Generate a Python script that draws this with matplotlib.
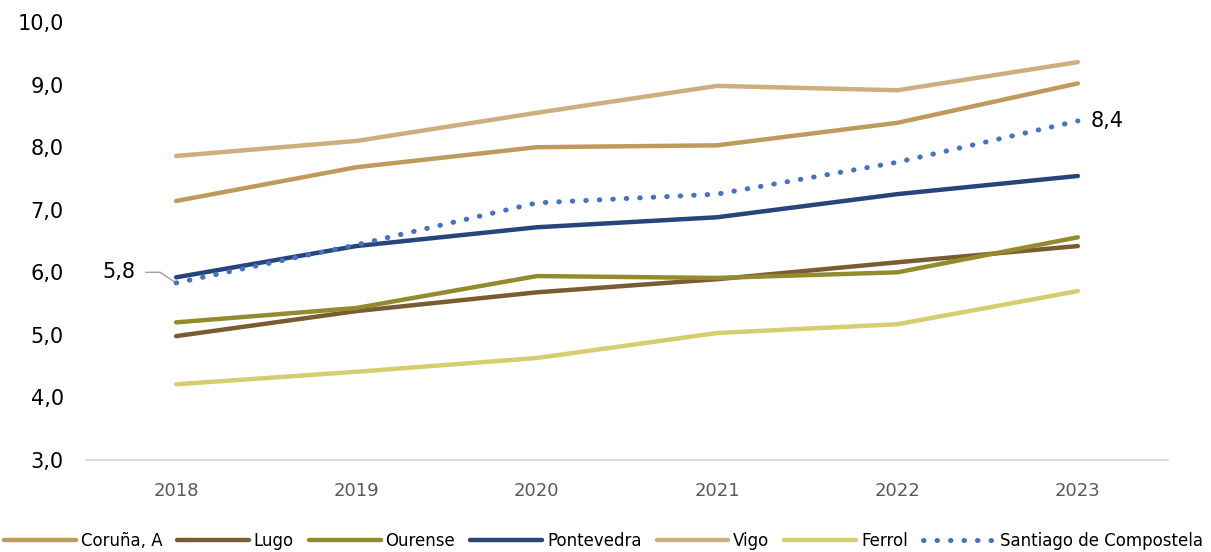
import matplotlib.pyplot as plt

# Datos
years = ["2018", "2019", "2020", "2021", "2022", "2023"]
coruna = [7.14, 7.68, 8.00, 8.03, 8.39, 9.02]
lugo = [4.98, 5.38, 5.68, 5.89, 6.16, 6.42]
ourense = [5.20, 5.43, 5.94, 5.91, 6.00, 6.56]
pontevedra = [5.92, 6.42, 6.72, 6.88, 7.25, 7.54]
vigo = [7.86, 8.10, 8.55, 8.98, 8.91, 9.36]
ferrol = [4.21, 4.41, 4.63, 5.03, 5.17, 5.70]
santiago = [5.83, 6.44, 7.11, 7.25, 7.76, 8.42]


def main():
    plt.rcParams['font.family'] = ['DejaVu Sans']
    fig = plt.figure(figsize=(12.11, 5.52), dpi=100)
    ax = fig.add_axes([0.071, 0.1667, 0.8935, 0.7933])

    x = list(range(len(years)))
    series = [
        ("Coruña, A", coruna, "#C09A5B"),
        ("Lugo", lugo, "#7A5C32"),
        ("Ourense", ourense, "#948B2E"),
        ("Pontevedra", pontevedra, "#26457A"),
        ("Vigo", vigo, "#CDAE7D"),
        ("Ferrol", ferrol, "#D6CD6E"),
    ]
    for name, vals, col in series:
        ax.plot(x, vals, color=col, lw=3.2, solid_capstyle='round', label=name)

    ax.plot(x, santiago, color="#4472C4", lw=3.6, linestyle=(0, (0.1, 2.6)),
            dash_capstyle='round', label="Santiago de Compostela")

    # Etiquetas de datos (primer y último valor de Santiago)
    ax.plot([-0.167, -0.089, x[0]], [6.0, 6.0, santiago[0]],
            color='#A6A6A6', lw=1.1, zorder=1)
    ax.text(-0.225, 6.0, "5,8", fontsize=15, va='center', ha='right')
    ax.text(x[-1] + 0.07, santiago[-1], "8,4", fontsize=15, va='center', ha='left')

    ax.set_xlim(-0.5, len(years) - 0.5)
    ax.set_ylim(3.0, 10.0)
    ax.set_yticks([3, 4, 5, 6, 7, 8, 9, 10])
    ax.set_yticklabels([f"{v:.1f}".replace('.', ',') for v in range(3, 11)], fontsize=15)
    ax.set_xticks(x)
    ax.set_xticklabels(years, fontsize=13, color='#595959')
    ax.tick_params(axis='both', length=0)
    ax.tick_params(axis='x', pad=16)
    ax.tick_params(axis='y', pad=16)

    for s in ['top', 'right', 'left']:
        ax.spines[s].set_visible(False)
    ax.spines['bottom'].set_color('#D9D9D9')
    ax.spines['bottom'].set_linewidth(1.2)

    ax.legend(loc='upper center', bbox_to_anchor=(0.478, -0.13), ncol=7, frameon=False,
              fontsize=12, handlelength=4.3, handletextpad=0.3, columnspacing=0.9)

    fig.savefig("out.png", dpi=100)


if __name__ == "__main__":
    main()
